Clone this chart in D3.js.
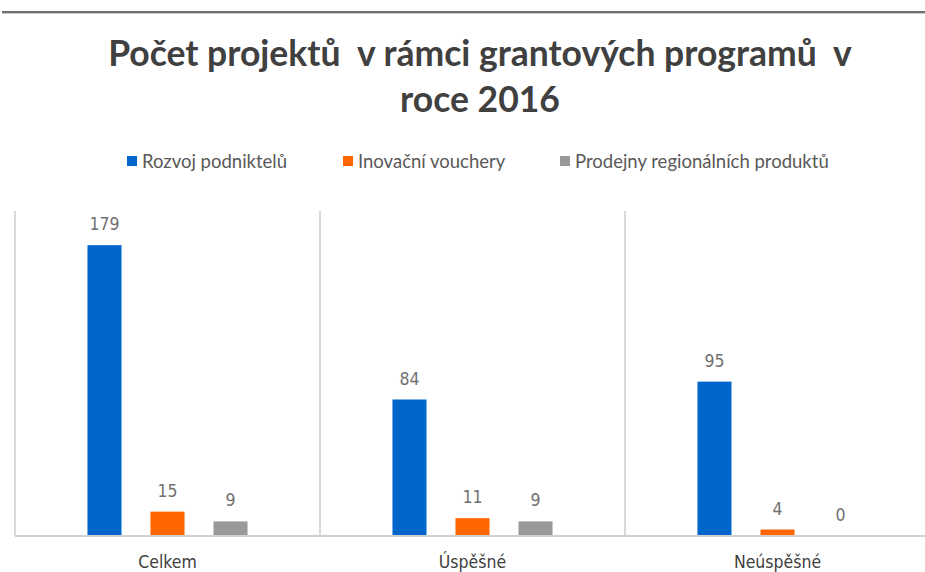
<!DOCTYPE html>
<meta charset="utf-8">
<script src="https://d3js.org/d3.v7.min.js"></script>
<style>
  body { margin: 0; background: #fff; }
</style>
<div id="my_dataviz"></div>
<script>

// data
var categories = ["Celkem", "Úspěšné", "Neúspěšné"];
var seriesNames = ["Rozvoj podniktelů", "Inovační vouchery", "Prodejny regionálních produktů"];
var rozvoj = [179, 84, 95];
var vouchery = [15, 11, 4];
var prodejny = [9, 9, 0];
var seriesColors = ["#0066cc", "#ff6600", "#999999"];
var titleLines = ["Počet projektů  v rámci grantových programů  v", "roce 2016"];

var seriesValues = [rozvoj, vouchery, prodejny];

// rows built from the arrays above
var rows = [];
categories.forEach(function(c, i) {
  seriesNames.forEach(function(s, j) {
    rows.push({cat: c, series: s, value: seriesValues[j][i], color: seriesColors[j]});
  });
});

var W = 925, H = 572;
var margin = {top: 211, left: 15, bottom: 36};
var plotW = 915, plotH = H - margin.top - margin.bottom;

var svg = d3.select("#my_dataviz")
  .append("svg")
    .attr("width", W)
    .attr("height", H);

// thin rule at the very top
svg.append("line")
  .attr("x1", 2).attr("x2", W)
  .attr("y1", 12).attr("y2", 12)
  .attr("stroke", "#707070")
  .attr("stroke-width", 2);
svg.append("line")
  .attr("x1", 2).attr("x2", W)
  .attr("y1", 13.5).attr("y2", 13.5)
  .attr("stroke", "#cccccc")
  .attr("stroke-width", 1);

// title
svg.append("text")
  .attr("x", 480)
  .attr("text-anchor", "middle")
  .style("font-family", "Lato, 'Open Sans', sans-serif")
  .style("font-weight", "bold")
  .style("font-size", "35.5px")
  .style("fill", "#404040")
  .style("white-space", "pre")
  .selectAll("tspan")
  .data(titleLines)
  .enter()
  .append("tspan")
    .attr("x", 480)
    .attr("y", function(d, i) { return 66 + i * 46; })
    .text(function(d) { return d; });

// legend
var legendX = [127, 343, 560];
var legend = svg.selectAll(".legend")
  .data(seriesNames)
  .enter()
  .append("g")
    .attr("class", "legend")
    .attr("transform", function(d, i) { return "translate(" + legendX[i] + ",156)"; });
legend.append("rect")
  .attr("width", 10)
  .attr("height", 10)
  .attr("fill", function(d, i) { return seriesColors[i]; });
legend.append("text")
  .attr("x", 15)
  .attr("y", 11.5)
  .style("font-family", "Lato, sans-serif")
  .style("font-size", "18.5px")
  .style("fill", "#595959")
  .text(function(d) { return d; });

var g = svg.append("g")
  .attr("transform", "translate(" + margin.left + "," + margin.top + ")");

// scales
var x0 = d3.scaleBand()
  .domain(categories)
  .range([0, plotW])
  .paddingInner(0)
  .paddingOuter(0);

var x1 = d3.scaleBand()
  .domain(seriesNames)
  .range([0, x0.bandwidth()])
  .paddingInner(0.46)
  .paddingOuter(1.15);

var y = d3.scaleLinear()
  .domain([0, 200])
  .range([plotH, 0]);

// category separators
g.selectAll(".sep")
  .data(categories)
  .enter()
  .append("line")
    .attr("class", "sep")
    .attr("x1", function(d) { return x0(d); })
    .attr("x2", function(d) { return x0(d); })
    .attr("y1", 0)
    .attr("y2", plotH)
    .attr("stroke", "#d9d9d9")
    .attr("stroke-width", 2);

// bars
g.selectAll(".bar")
  .data(rows)
  .enter()
  .append("rect")
    .attr("class", "bar")
    .attr("x", function(d) { return x0(d.cat) + x1(d.series); })
    .attr("y", function(d) { return y(d.value); })
    .attr("width", x1.bandwidth())
    .attr("height", function(d) { return plotH - y(d.value); })
    .attr("fill", function(d) { return d.color; });

// value labels
g.selectAll(".val")
  .data(rows)
  .enter()
  .append("text")
    .attr("class", "val")
    .attr("x", function(d) { return x0(d.cat) + x1(d.series) + x1.bandwidth() / 2; })
    .attr("y", function(d) { return y(d.value) - 15; })
    .attr("text-anchor", "middle")
    .style("font-family", "'DejaVu Sans Condensed', 'Liberation Sans', sans-serif")
    .style("font-size", "17.5px")
    .style("fill", "#707070")
    .text(function(d) { return d.value; });

// x axis baseline
g.append("line")
  .attr("x1", 0).attr("x2", W)
  .attr("y1", plotH).attr("y2", plotH)
  .attr("stroke", "#d0d0d0")
  .attr("stroke-width", 2);

// category labels
g.selectAll(".cat")
  .data(categories)
  .enter()
  .append("text")
    .attr("class", "cat")
    .attr("x", function(d) { return x0(d) + x0.bandwidth() / 2; })
    .attr("y", plotH + 32)
    .attr("text-anchor", "middle")
    .style("font-family", "'DejaVu Sans Condensed', 'Liberation Sans', sans-serif")
    .style("font-size", "17.5px")
    .style("fill", "#404040")
    .text(function(d) { return d; });

</script>
